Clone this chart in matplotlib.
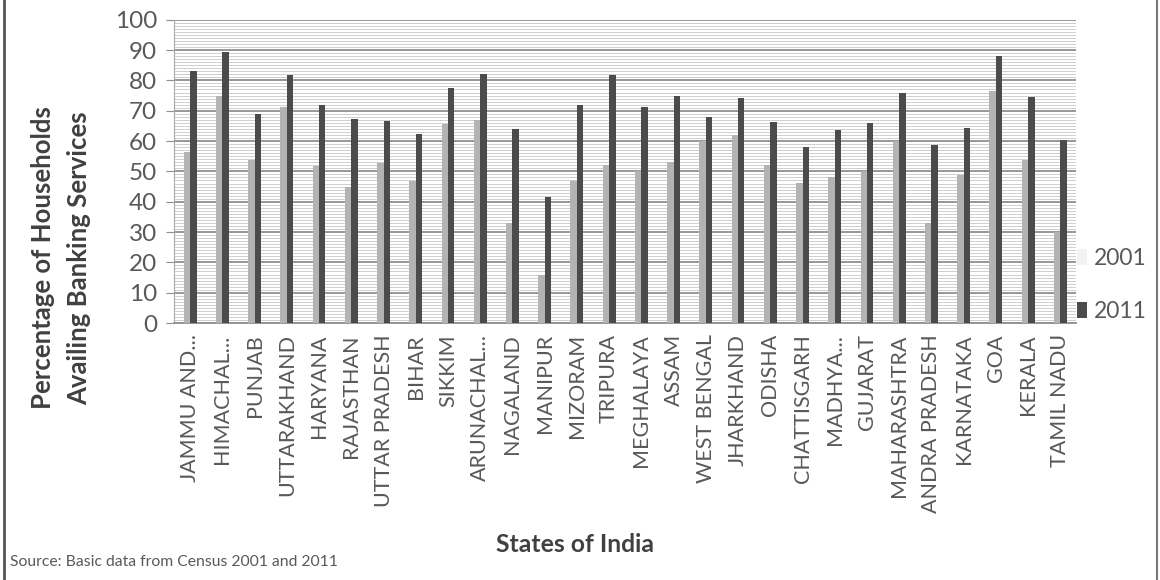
import matplotlib.pyplot as plt
from matplotlib.lines import Line2D
from matplotlib.ticker import MultipleLocator
import numpy as np

# Households availing banking services, by state (Census 2001 vs 2011)
states = ['JAMMU AND...', 'HIMACHAL...', 'PUNJAB', 'UTTARAKHAND', 'HARYANA',
          'RAJASTHAN', 'UTTAR PRADESH', 'BIHAR', 'SIKKIM', 'ARUNACHAL...',
          'NAGALAND', 'MANIPUR', 'MIZORAM', 'TRIPURA', 'MEGHALAYA', 'ASSAM',
          'WEST BENGAL', 'JHARKHAND', 'ODISHA', 'CHATTISGARH', 'MADHYA...',
          'GUJARAT', 'MAHARASHTRA', 'ANDRA PRADESH', 'KARNATAKA', 'GOA',
          'KERALA', 'TAMIL NADU']
pct_2001 = [56.4, 75.0, 53.9, 71.1, 51.7, 44.8, 52.9, 46.9, 65.6, 66.8,
            33.1, 15.8, 46.9, 52.0, 50.0, 53.1, 59.9, 62.1, 52.0, 46.1,
            48.0, 50.0, 59.9, 33.1, 48.9, 76.5, 53.9, 29.9]
pct_2011 = [83.2, 89.2, 68.9, 81.8, 71.9, 67.4, 66.6, 62.4, 77.6, 82.1,
            64.0, 41.4, 71.9, 81.8, 71.2, 74.9, 68.0, 74.3, 66.4, 58.2,
            63.5, 66.0, 75.9, 58.6, 64.2, 88.1, 74.6, 60.2]
years = ['2001', '2011']

plt.rcParams['font.family'] = ['Lato', 'DejaVu Sans']

fig = plt.figure(figsize=(11.6, 5.8), dpi=100)
ax = fig.add_axes([0.150, 0.443, 0.778, 0.523])

x = np.arange(len(states))
w = 0.2
ax.bar(x - w / 2, pct_2001, width=w, color='#b3b3b3', label=years[0], zorder=3)
ax.bar(x + w / 2, pct_2011, width=w, color='#4b4b4b', label=years[1], zorder=3)

ax.set_xlim(-0.5, len(states) - 0.5)
ax.set_ylim(0, 100)
ax.yaxis.set_major_locator(MultipleLocator(10))
ax.yaxis.set_minor_locator(MultipleLocator(1))
ax.grid(axis='y', which='major', color='#8f8f8f', linewidth=1.3, zorder=1)
ax.grid(axis='y', which='minor', color='#c6c6c6', linewidth=0.6, zorder=0)

ax.set_xticks(x)
ax.set_xticklabels(states, rotation=90, fontsize=15.5, color='#595959')
ax.tick_params(axis='x', length=0, pad=8)
ax.tick_params(axis='y', which='major', length=6, color='#8f8f8f', labelsize=17.5,
               labelcolor='#595959', pad=6)
ax.tick_params(axis='y', which='minor', length=0)

for side in ['top', 'right']:
    ax.spines[side].set_visible(False)
ax.spines['left'].set_color('#a8a8a8')
ax.spines['bottom'].set_color('#8f8f8f')
ax.spines['bottom'].set_linewidth(1.3)

leg = ax.legend(loc='center left', bbox_to_anchor=(0.988, 0.125), frameon=False,
                fontsize=16.5, labelcolor='#595959', handlelength=0.45,
                handleheight=0.7, handletextpad=0.3, labelspacing=1.4,
                borderaxespad=0.1)
leg.legend_handles[0].set_facecolor('#f2f2f2')

fig.text(61 / 1160, 1 - 258 / 580, 'Percentage of Households\nAvailing Banking Services',
         rotation=90, ha='center', va='center', multialignment='center',
         fontsize=18.5, fontweight='bold', color='#404040', linespacing=1.6)
fig.text(575 / 1160, 1 - 544 / 580, 'States of India', ha='center', va='center',
         fontsize=17.8, fontweight='bold', color='#404040')
fig.text(10 / 1160, 1 - 562 / 580, 'Source: Basic data from Census 2001 and 2011',
         ha='left', va='center', fontsize=11.3, color='#595959')

# outer frame lines on the left and right edges
fig.add_artist(Line2D([4 / 1160, 4 / 1160], [0, 1], color='#555555', linewidth=2))
fig.add_artist(Line2D([1157 / 1160, 1157 / 1160], [0, 1], color='#777777', linewidth=1.5))

fig.savefig('out.png', dpi=100)
